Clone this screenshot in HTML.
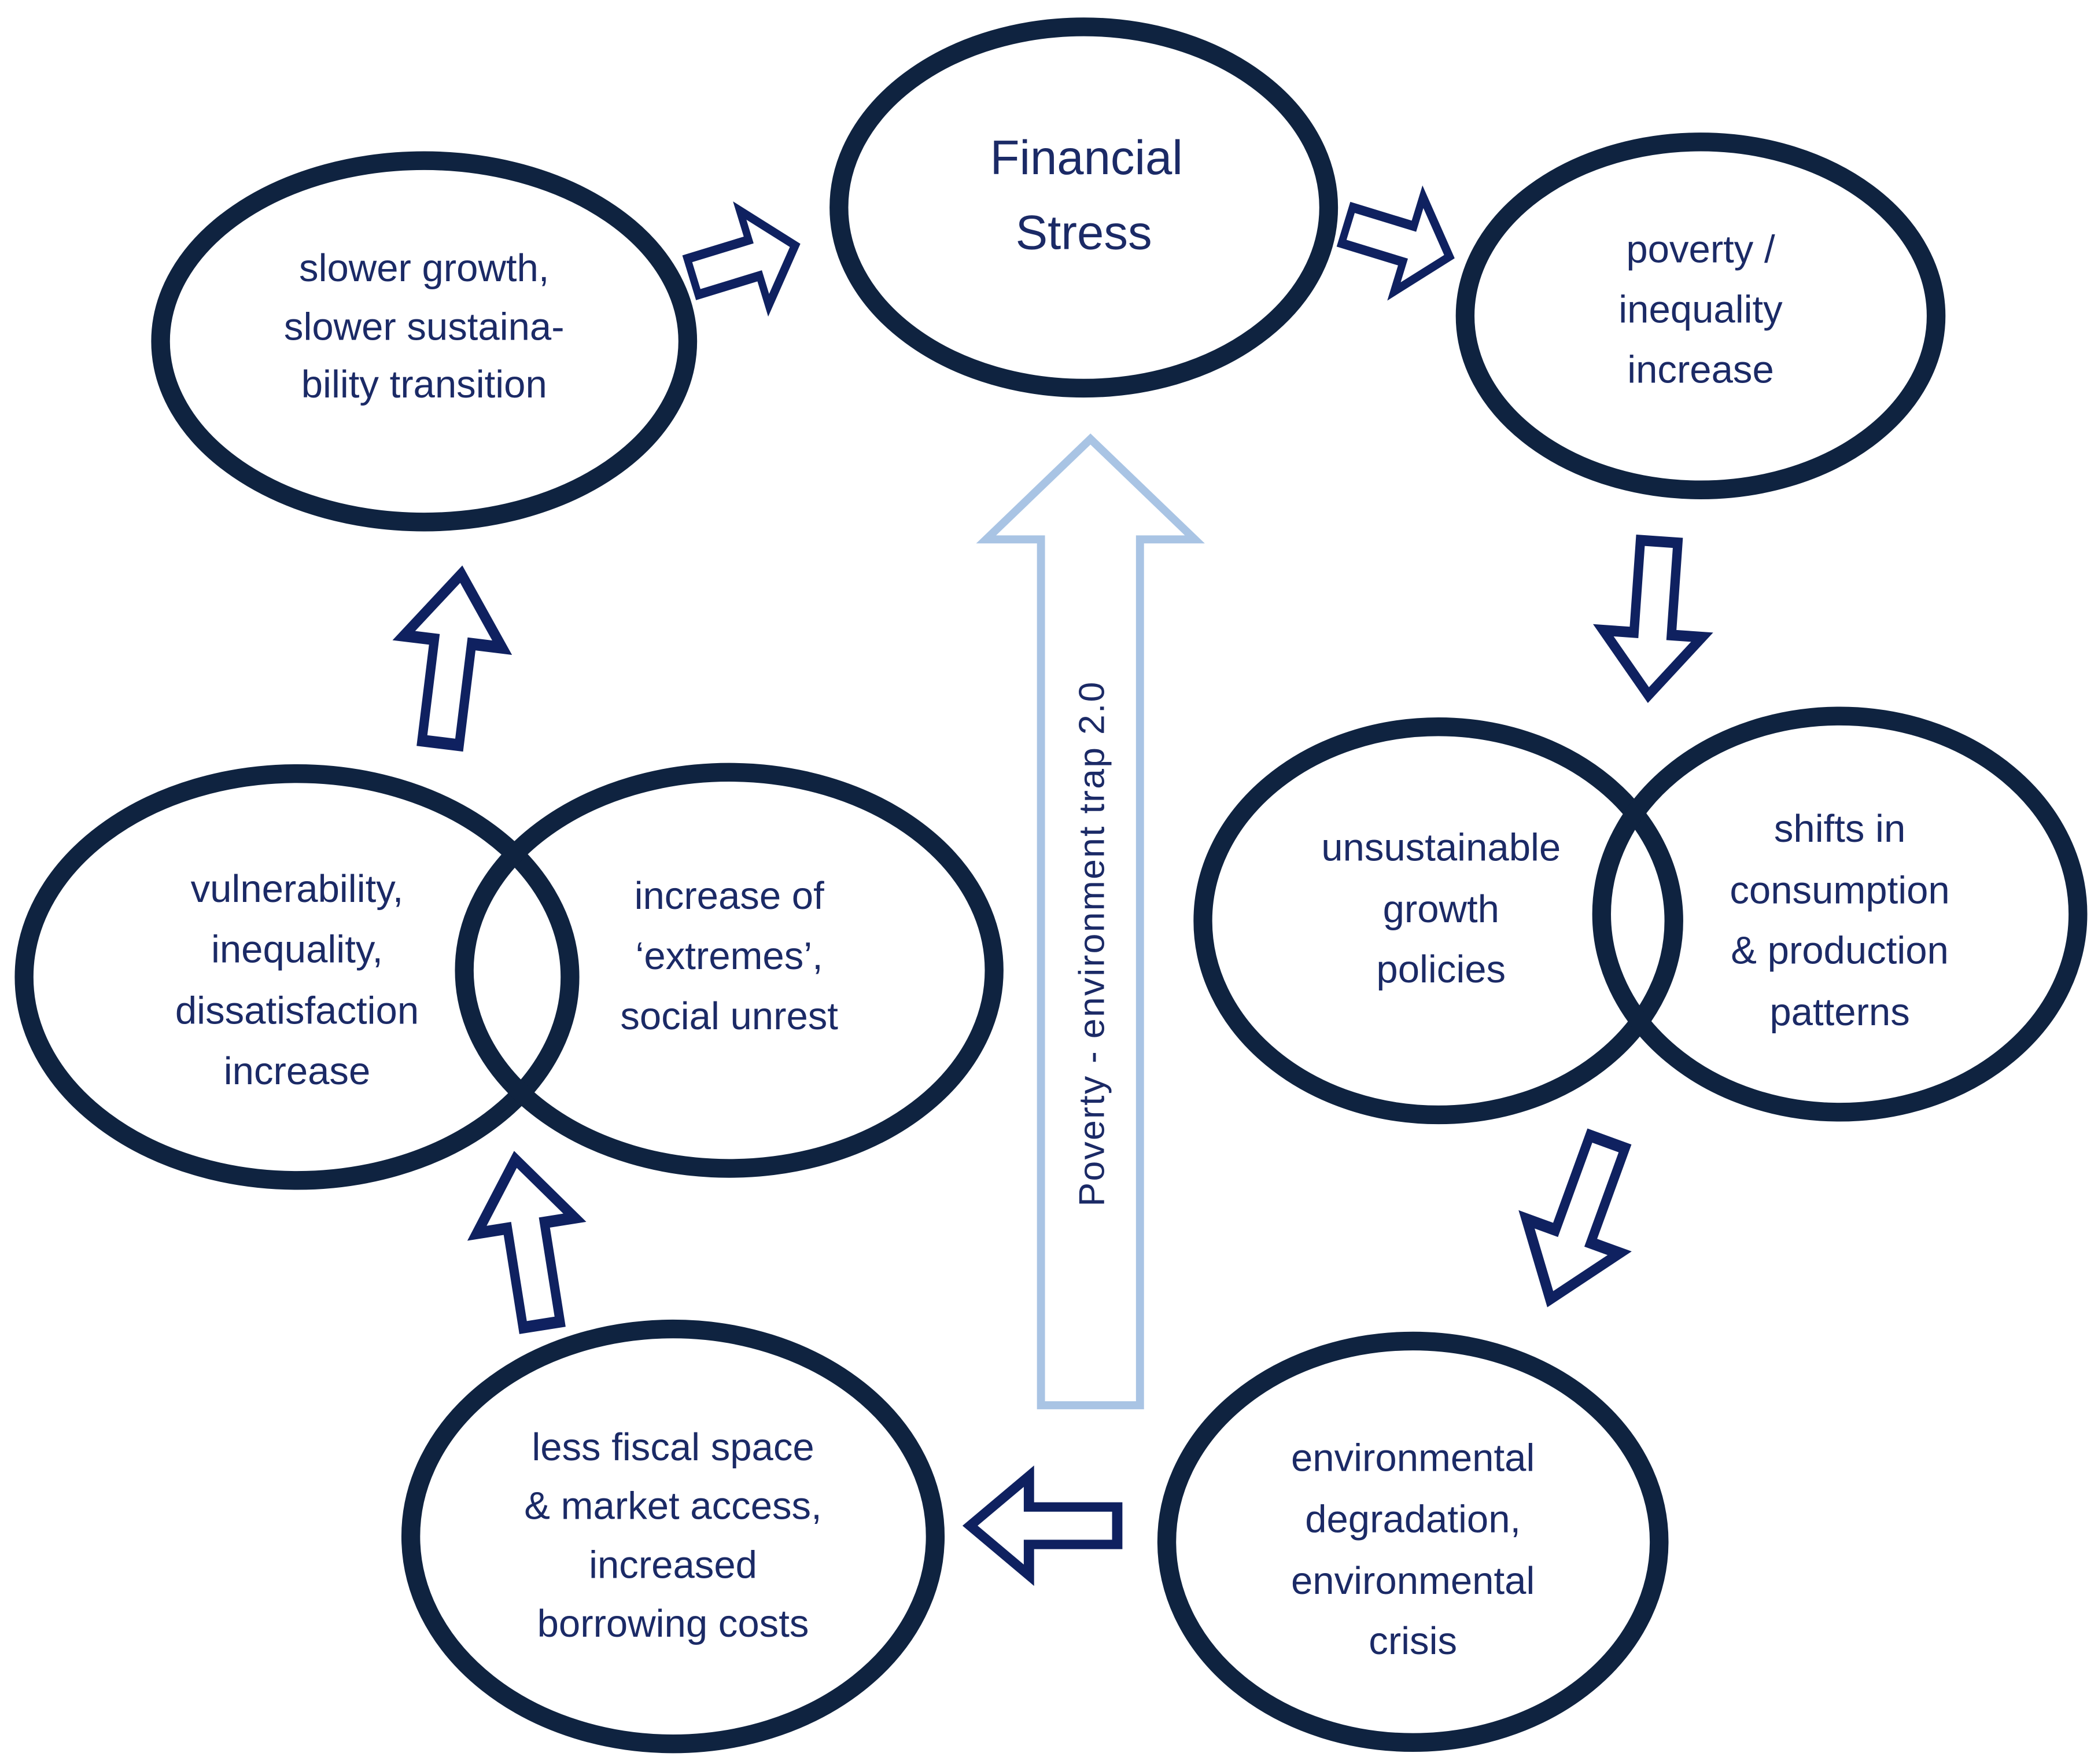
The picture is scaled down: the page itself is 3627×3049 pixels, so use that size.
<!DOCTYPE html>
<html><head><meta charset="utf-8"><style>
html,body{margin:0;padding:0;background:#fff;}
svg{display:block;}
text{font-family:"Liberation Sans",sans-serif;fill:#1b2a66;text-anchor:middle;}
</style></head><body>
<svg width="3627" height="3049" viewBox="0 0 1568 1318" xmlns="http://www.w3.org/2000/svg">
<defs>
<polygon id="ar" points="-50,-14 10,-14 10,-37 50,0 10,37 10,14 -50,14"/>
</defs>
<g fill="none" stroke="#0f2340" stroke-width="14">
<ellipse cx="810" cy="155" rx="183" ry="135"/>
<ellipse cx="317" cy="255" rx="197" ry="135"/>
<ellipse cx="1271" cy="236" rx="176" ry="130"/>
<ellipse cx="1075" cy="688" rx="176" ry="145"/>
<ellipse cx="1375" cy="683" rx="178" ry="148"/>
<ellipse cx="222" cy="730" rx="204" ry="152"/>
<ellipse cx="545" cy="725" rx="198" ry="148"/>
<ellipse cx="1056" cy="1152" rx="184" ry="150"/>
<ellipse cx="503" cy="1148" rx="196" ry="155"/>
</g>
<polygon points="778,1050 852,1050 852,403 893,403 815,328 737,403 778,403" fill="#fff" stroke="#a9c4e4" stroke-width="6"/>
<text transform="translate(825,705) rotate(-90)" font-size="27" style="letter-spacing:1px">Poverty - environment  trap  2.0</text>
<g fill="#fff" stroke="#0f2160" stroke-width="7" stroke-linejoin="miter">
<use href="#ar" transform="translate(556,195) rotate(-17) scale(0.8,1)"/>
<use href="#ar" transform="translate(1045,180) rotate(17) scale(0.8,1)"/>
<use href="#ar" transform="translate(1236,462) rotate(94) scale(1.15,1)"/>
<use href="#ar" transform="translate(1180,912) rotate(110) scale(1.25,1)"/>
<use href="#ar" transform="translate(780,1140) rotate(180) scale(1.1,1)"/>
<use href="#ar" transform="translate(395,928) rotate(-99) scale(1.25,1)"/>
<use href="#ar" transform="translate(337,492) rotate(-83) scale(1.27,1)"/>
</g>
<text x="812" y="130" font-size="36">Financial</text>
<text x="810" y="186" font-size="36">Stress</text>
<g font-size="29">
<text x="317" y="210">slower growth,</text>
<text x="317" y="254">slower sustaina-</text>
<text x="317" y="297">bility transition</text>
<text x="1271" y="196">poverty /</text>
<text x="1271" y="241">inequality</text>
<text x="1271" y="286">increase</text>
<text x="1077" y="643">unsustainable</text>
<text x="1077" y="689">growth</text>
<text x="1077" y="734">policies</text>
<text x="1375" y="629">shifts in</text>
<text x="1375" y="675">consumption</text>
<text x="1375" y="720">&amp; production</text>
<text x="1375" y="766">patterns</text>
<text x="222" y="674">vulnerability,</text>
<text x="222" y="719">inequality,</text>
<text x="222" y="765">dissatisfaction</text>
<text x="222" y="810">increase</text>
<text x="545" y="679">increase of</text>
<text x="545" y="724">‘extremes’,</text>
<text x="545" y="769">social unrest</text>
<text x="1056" y="1099">environmental</text>
<text x="1056" y="1145">degradation,</text>
<text x="1056" y="1191">environmental</text>
<text x="1056" y="1236">crisis</text>
<text x="503" y="1091">less fiscal space</text>
<text x="503" y="1135">&amp; market access,</text>
<text x="503" y="1179">increased</text>
<text x="503" y="1223">borrowing costs</text>
</g>
</svg>
</body></html>
